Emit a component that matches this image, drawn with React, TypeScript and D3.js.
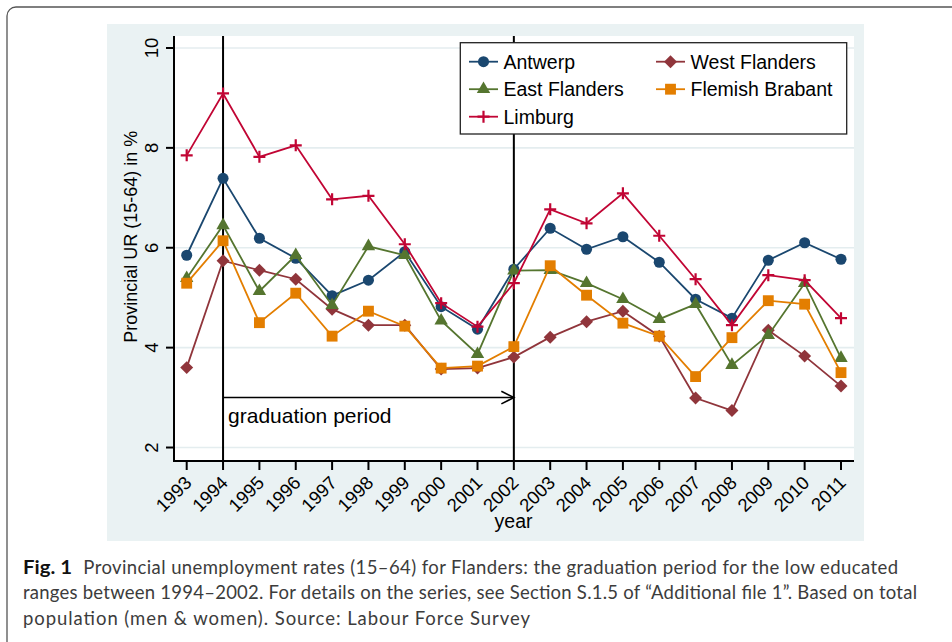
import React, { useRef, useEffect } from 'react';
import * as d3 from 'd3';

const years = [1993, 1994, 1995, 1996, 1997, 1998, 1999, 2000, 2001, 2002, 2003, 2004, 2005, 2006, 2007, 2008, 2009, 2010, 2011];
const antwerp = [5.85, 7.39, 6.19, 5.79, 5.04, 5.35, 5.92, 4.82, 4.37, 5.57, 6.39, 5.97, 6.22, 5.71, 4.97, 4.59, 5.75, 6.10, 5.77];
const westFlanders = [3.60, 5.74, 5.55, 5.37, 4.77, 4.45, 4.45, 3.57, 3.59, 3.81, 4.21, 4.52, 4.73, 4.23, 2.99, 2.74, 4.35, 3.83, 3.23];
const eastFlanders = [5.39, 6.45, 5.13, 5.85, 4.85, 6.03, 5.85, 4.54, 3.87, 5.54, 5.55, 5.29, 4.97, 4.57, 4.87, 3.65, 4.25, 5.29, 3.79];
const flemishBrabant = [5.29, 6.14, 4.50, 5.09, 4.23, 4.73, 4.43, 3.59, 3.63, 4.02, 5.64, 5.05, 4.49, 4.23, 3.42, 4.20, 4.94, 4.87, 3.50];
const limburg = [7.85, 9.09, 7.82, 8.05, 6.97, 7.04, 6.07, 4.89, 4.42, 5.29, 6.77, 6.49, 7.09, 6.24, 5.37, 4.45, 5.45, 5.35, 4.59];
const yTicks = [2, 4, 6, 8, 10];
const periodStart = 1994;
const periodEnd = 2002;
const arrowLevel = 3;
const periodLabelLevel = 2.5;

const series = [
    { name: 'Antwerp', values: antwerp, color: '#1a476f', shape: 'circle' },
    { name: 'West Flanders', values: westFlanders, color: '#90353b', shape: 'diamond' },
    { name: 'East Flanders', values: eastFlanders, color: '#55752f', shape: 'triangle' },
    { name: 'Flemish Brabant', values: flemishBrabant, color: '#e37e00', shape: 'square' },
    { name: 'Limburg', values: limburg, color: '#c10534', shape: 'plus' },
];

const captionLines = [
    'Provincial unemployment rates (15\u201364) for Flanders: the graduation period for the low educated',
    'ranges between 1994\u20132002. For details on the series, see Section S.1.5 of \u201cAdditional file 1\u201d. Based on total',
    'population (men & women). Source: Labour Force Survey',
];

const W = 952, H = 642;
const plot = { left: 174, right: 854, top: 36, bottom: 461 };
const font = '"Liberation Sans", Arial, Helvetica, sans-serif';

const addMarker = (g, shape, color) => {
    if (shape === 'circle') {
        g.append('path').attr('d', d3.symbol(d3.symbolCircle, 96)()).attr('fill', color);
    } else if (shape === 'diamond') {
        g.append('path').attr('d', d3.symbol(d3.symbolSquare, 84)()).attr('transform', 'rotate(45)').attr('fill', color);
    } else if (shape === 'triangle') {
        g.append('path').attr('d', d3.symbol(d3.symbolTriangle, 78)()).attr('fill', color);
    } else if (shape === 'square') {
        g.append('path').attr('d', d3.symbol(d3.symbolSquare, 118)()).attr('fill', color);
    } else {
        g.append('path').attr('d', 'M-6,0H6M0,-6V6').attr('stroke', color).attr('stroke-width', 2.2).attr('fill', 'none');
    }
};

const Chart = () => {
    const svgRef = useRef(null);

    useEffect(() => {
        const svg = d3.select(svgRef.current);
        svg.selectAll('*').remove();

        // card frame
        svg.append('rect')
            .attr('x', 7).attr('y', 7).attr('width', 980).attr('height', 700).attr('rx', 9)
            .attr('fill', '#fff').attr('stroke', '#555').attr('stroke-width', 1.3);

        // stata graph region + plot region
        svg.append('rect').attr('x', 107).attr('y', 24).attr('width', 757).attr('height', 517).attr('fill', '#eaf2f3');
        svg.append('rect').attr('x', plot.left).attr('y', plot.top)
            .attr('width', plot.right - plot.left).attr('height', plot.bottom - plot.top).attr('fill', '#fff');

        const x = d3.scaleLinear().domain([1993, 2011]).range([186.7, 841]);
        const y = d3.scaleLinear().domain([1.73, 10.24]).range([plot.bottom, plot.top]);

        // gridlines
        svg.append('g').selectAll('line').data(yTicks).enter().append('line')
            .attr('x1', plot.left).attr('x2', plot.right)
            .attr('y1', d => y(d)).attr('y2', d => y(d))
            .attr('stroke', '#e4edef').attr('stroke-width', 1.6);

        // vertical markers for the graduation period
        svg.append('g').selectAll('line').data([periodStart, periodEnd]).enter().append('line')
            .attr('x1', d => x(d)).attr('x2', d => x(d))
            .attr('y1', plot.top).attr('y2', plot.bottom)
            .attr('stroke', '#000').attr('stroke-width', 2);

        // arrow + label
        const ay = y(arrowLevel);
        svg.append('line').attr('x1', x(periodStart)).attr('x2', x(periodEnd)).attr('y1', ay).attr('y2', ay)
            .attr('stroke', '#000').attr('stroke-width', 1.6);
        svg.append('path')
            .attr('d', `M${x(periodEnd) - 12.5},${ay - 6.3}L${x(periodEnd)},${ay}L${x(periodEnd) - 12.5},${ay + 6.3}`)
            .attr('fill', 'none').attr('stroke', '#000').attr('stroke-width', 1.6);
        svg.append('text').attr('x', x(periodStart) + 5).attr('y', y(periodLabelLevel))
            .attr('font-family', font).attr('font-size', 21).attr('fill', '#000')
            .text('graduation period');

        // series
        const line = d3.line().x((d, i) => x(years[i])).y(d => y(d));
        series.forEach(s => {
            svg.append('path').datum(s.values).attr('d', line)
                .attr('fill', 'none').attr('stroke', s.color).attr('stroke-width', 1.8);
            s.values.forEach((v, i) => {
                const g = svg.append('g').attr('transform', `translate(${x(years[i])},${y(v)})`);
                addMarker(g, s.shape, s.color);
            });
        });

        // axes
        svg.append('line').attr('x1', plot.left).attr('x2', plot.left).attr('y1', plot.top).attr('y2', plot.bottom + 1)
            .attr('stroke', '#000').attr('stroke-width', 2);
        svg.append('line').attr('x1', plot.left - 1).attr('x2', plot.right).attr('y1', plot.bottom).attr('y2', plot.bottom)
            .attr('stroke', '#000').attr('stroke-width', 2);

        const yAxis = svg.append('g');
        yTicks.forEach(t => {
            yAxis.append('line').attr('x1', plot.left - 8).attr('x2', plot.left).attr('y1', y(t)).attr('y2', y(t))
                .attr('stroke', '#000').attr('stroke-width', 2);
            yAxis.append('text').attr('transform', `translate(157.5,${y(t)}) rotate(-90)`)
                .attr('text-anchor', 'middle').attr('font-family', font).attr('font-size', 18.5).attr('fill', '#000')
                .text(t);
        });
        svg.append('text').attr('transform', 'translate(136.5,236.7) rotate(-90)')
            .attr('text-anchor', 'middle').attr('font-family', font).attr('font-size', 18).attr('fill', '#000')
            .text('Provincial UR (15-64) in %');

        const xAxis = svg.append('g');
        years.forEach(yr => {
            xAxis.append('line').attr('x1', x(yr)).attr('x2', x(yr)).attr('y1', plot.bottom).attr('y2', plot.bottom + 9)
                .attr('stroke', '#000').attr('stroke-width', 2);
            xAxis.append('text').attr('transform', `translate(${x(yr) + 6},${484}) rotate(-45)`)
                .attr('text-anchor', 'end').attr('font-family', font).attr('font-size', 18.5).attr('fill', '#000')
                .text(yr);
        });
        svg.append('text').attr('x', 513.5).attr('y', 528).attr('text-anchor', 'middle')
            .attr('font-family', font).attr('font-size', 19.5).attr('fill', '#000').text('year');

        // legend
        const lg = svg.append('g');
        lg.append('rect').attr('x', 460.3).attr('y', 42.7).attr('width', 386.4).attr('height', 91.3)
            .attr('fill', '#fff').attr('stroke', '#222').attr('stroke-width', 1.3);
        series.forEach((s, i) => {
            const col = i % 2, row = Math.floor(i / 2);
            const lx = col === 0 ? 469 : 656;
            const ly = 61.7 + row * 27.5;
            lg.append('line').attr('x1', lx).attr('x2', lx + 29).attr('y1', ly).attr('y2', ly)
                .attr('stroke', s.color).attr('stroke-width', 1.8);
            const g = lg.append('g').attr('transform', `translate(${lx + 14.5},${ly})`);
            addMarker(g, s.shape, s.color);
            lg.append('text').attr('x', lx + 34.5).attr('y', ly + 7)
                .attr('font-family', font).attr('font-size', 19.5).attr('fill', '#000').text(s.name);
        });

        // caption
        const capFont = 'Lato, "Open Sans", "Noto Sans", sans-serif';
        svg.append('text').attr('x', 23).attr('y', 573.5)
            .attr('font-family', capFont).attr('font-weight', 'bold').attr('font-size', 18.5).attr('fill', '#111')
            .attr('textLength', 49).attr('lengthAdjust', 'spacingAndGlyphs')
            .text('Fig. 1');
        const capEnds = [[83.3, 898], [23, 917], [23, 530]];
        captionLines.forEach((txt, i) => {
            svg.append('text').attr('x', capEnds[i][0]).attr('y', 573.5 + i * 25.8)
                .attr('font-family', capFont).attr('font-size', 18.5).attr('fill', '#3c3c3c')
                .attr('textLength', capEnds[i][1] - capEnds[i][0]).attr('lengthAdjust', 'spacing')
                .text(txt);
        });
    }, []);

    return <svg ref={svgRef} width={W} height={H} style={{ position: 'absolute', left: 0, top: 0 }}></svg>;
};

export default function App() {
    return <Chart />;
}
